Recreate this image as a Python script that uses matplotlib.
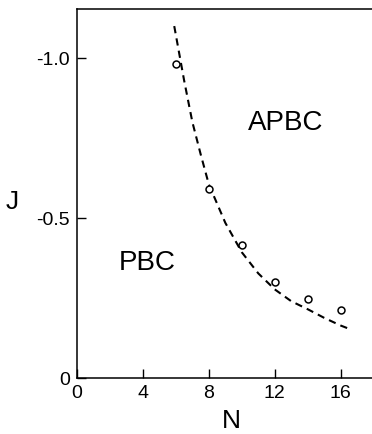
import matplotlib.pyplot as plt

plt.rcParams['font.family'] = ['Liberation Sans', 'DejaVu Sans']

# data points (J vs N)
n_pts = [6, 8, 10, 12, 14, 16]
j_pts = [-0.98, -0.59, -0.415, -0.30, -0.247, -0.213]

# dashed boundary curve
n_curve = [5.9, 6.5, 7.0, 7.5, 8.0, 9.0, 10.0, 11.0, 12.0, 13.0, 14.0, 15.0, 16.0, 16.55]
j_curve = [-1.10, -0.93, -0.80, -0.70, -0.605, -0.485, -0.393, -0.327, -0.277,
           -0.240, -0.215, -0.188, -0.164, -0.153]

x_ticks = [0, 4, 8, 12, 16]
y_ticks = [0, -0.5, -1.0]
y_labels = ['0', '-0.5', '-1.0']

fig = plt.figure(figsize=(3.72, 4.34), dpi=100)
ax = fig.add_axes([0.207, 0.129, 0.793, 0.85])

ax.plot(n_curve, j_curve, color='black', lw=1.5, dashes=(3.5, 2.5))
ax.plot(n_pts, j_pts, 'o', mfc='white', mec='black', ms=5, mew=1.1)

ax.set_xlim(0, 17.9)
ax.set_ylim(0, -1.153)

ax.set_xticks(x_ticks)
ax.set_yticks(y_ticks)
ax.set_yticklabels(y_labels)
ax.tick_params(direction='in', length=6.5, width=1, labelsize=14)
ax.tick_params(axis='x', pad=5)
ax.tick_params(axis='y', pad=5)

ax.spines['right'].set_visible(False)
for s in ['left', 'top', 'bottom']:
    ax.spines[s].set_linewidth(1.1)

ax.text(12.67, -0.797, 'APBC', fontsize=20, ha='center', va='center')
ax.text(4.24, -0.36, 'PBC', fontsize=20, ha='center', va='center')

fig.text(12 / 372, 1 - 202 / 434, 'J', fontsize=19, ha='center', va='center')
fig.text(231 / 372, 1 - 421 / 434, 'N', fontsize=19, ha='center', va='center')

fig.savefig('out.png', dpi=100)
